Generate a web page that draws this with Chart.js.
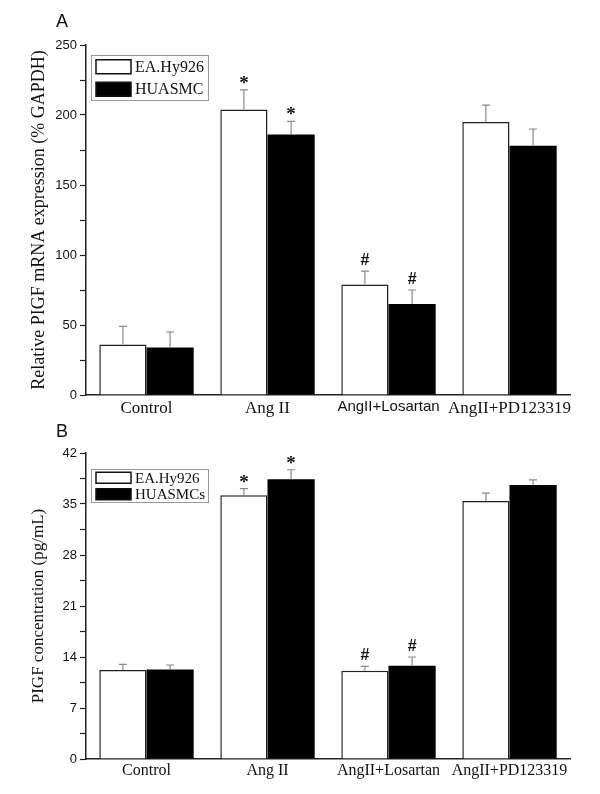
<!DOCTYPE html>
<html>
<head>
<meta charset="utf-8">
<script src="https://cdn.jsdelivr.net/npm/chart.js@4"></script>
<style>
  body { margin: 0; background: #fff; }
  #wrapA { position: absolute; left: 0; top: 0; }
  #wrapB { position: absolute; left: 0; top: 420px; }
</style>
</head>
<body>
<div id="wrapA"><canvas id="chartA" width="600" height="420"></canvas></div>
<div id="wrapB"><canvas id="chartB" width="600" height="374"></canvas></div>
<script>
// categories
const categories = ['Control', 'Ang II', 'AngII+Losartan', 'AngII+PD123319'];

// panel A: relative PlGF mRNA (% GAPDH)
const mrnaEA = [36, 204, 79, 195];
const mrnaEAErr = [13, 14, 9.5, 12];
const mrnaHU = [34, 186, 65, 178];
const mrnaHUErr = [11, 9.5, 10, 12];
const mrnaEAMarks = ['', '*', '#', ''];
const mrnaHUMarks = ['', '*', '#', ''];

// panel B: PlGF concentration (pg/mL)
const concEA = [12.2, 36.2, 12.1, 35.4];
const concEAErr = [0.8, 0.9, 0.6, 1.1];
const concHU = [12.3, 38.4, 12.8, 37.6];
const concHUErr = [0.6, 1.3, 1.2, 0.7];
const concEAMarks = ['', '*', '#', ''];
const concHUMarks = ['', '*', '#', ''];

const serif = '"Liberation Serif", "Times New Roman", serif';
const sans = '"Liberation Sans", Arial, sans-serif';

// error bars (upward only) + significance marks
const errorBars = {
  id: 'errorBars',
  afterDatasetsDraw(chart) {
    const ctx = chart.ctx;
    const y = chart.scales.y;
    chart.data.datasets.forEach((ds, di) => {
      const meta = chart.getDatasetMeta(di);
      meta.data.forEach((bar, i) => {
        const top = y.getPixelForValue(ds.data[i] + ds.errors[i]);
        ctx.save();
        ctx.strokeStyle = '#8a8a8a';
        ctx.lineWidth = 1.2;
        ctx.beginPath();
        ctx.moveTo(bar.x, bar.y);
        ctx.lineTo(bar.x, top);
        ctx.moveTo(bar.x - 4, top);
        ctx.lineTo(bar.x + 4, top);
        ctx.stroke();
        const m = ds.marks[i];
        if (m) {
          ctx.fillStyle = '#111';
          ctx.textAlign = 'center';
          ctx.textBaseline = 'alphabetic';
          if (m === '*') {
            ctx.font = 'bold 19px ' + serif;
            ctx.fillText(m, bar.x, top - 1);
          } else {
            ctx.font = 'bold 16px ' + sans;
            ctx.fillText(m, bar.x, top - 6);
          }
        }
        ctx.restore();
      });
    });
  }
};

// boxed legend and panel letter
const boxLegend = {
  id: 'boxLegend',
  afterDraw(chart, args, opts) {
    const ctx = chart.ctx;
    ctx.save();
    ctx.strokeStyle = '#999';
    ctx.lineWidth = 1;
    ctx.strokeRect(opts.x + 0.5, opts.y + 0.5, opts.w, opts.h);
    const rowH = opts.h / chart.data.datasets.length;
    chart.data.datasets.forEach((ds, i) => {
      const cy = opts.y + rowH * i + rowH / 2 + 0.5;
      ctx.fillStyle = ds.backgroundColor;
      ctx.fillRect(opts.x + 5, cy - opts.sh / 2, 35, opts.sh);
      ctx.strokeStyle = '#111';
      ctx.lineWidth = 1.5;
      ctx.strokeRect(opts.x + 5, cy - opts.sh / 2, 35, opts.sh);
      ctx.fillStyle = '#111';
      ctx.font = opts.fontSize + 'px ' + serif;
      ctx.textAlign = 'left';
      ctx.textBaseline = 'middle';
      ctx.fillText(ds.label, opts.x + 44, cy + 1);
    });
    ctx.font = '18px ' + sans;
    ctx.textAlign = 'center';
    ctx.textBaseline = 'middle';
    ctx.fillText(opts.letter, opts.lx, opts.ly);
    ctx.restore();
  }
};

function makeChart(id, cfg) {
  const labelFont = (c) => {
    if (cfg.sansIndex === c.index) return { family: sans, size: 15 };
    return { family: serif, size: cfg.xFont };
  };
  return new Chart(document.getElementById(id), {
    type: 'bar',
    data: {
      labels: categories,
      datasets: [
        {
          label: 'EA.Hy926', data: cfg.ea, errors: cfg.eaErr, marks: cfg.eaMarks,
          backgroundColor: '#ffffff', borderColor: '#222', borderWidth: 1.5,
          borderSkipped: 'bottom', categoryPercentage: 0.78, barPercentage: 1
        },
        {
          label: cfg.huLabel, data: cfg.hu, errors: cfg.huErr, marks: cfg.huMarks,
          backgroundColor: '#000000', borderColor: '#000', borderWidth: 0,
          categoryPercentage: 0.78, barPercentage: 1
        }
      ]
    },
    options: {
      responsive: false,
      animation: false,
      layout: { padding: { left: 0, right: 30, top: cfg.top, bottom: 0 } },
      plugins: {
        legend: { display: false },
        tooltip: { enabled: false },
        boxLegend: cfg.legend
      },
      scales: {
        x: {
          grid: { display: false, drawTicks: false },
          border: { color: '#222', width: 1.5 },
          ticks: { color: '#111', font: labelFont, padding: cfg.xPad, maxRotation: 0, autoSkip: false },
          afterFit: (s) => { s.height = cfg.xHeight; }
        },
        y: {
          min: 0, max: cfg.max,
          grid: { drawOnChartArea: false, tickLength: 6, tickColor: '#222', tickWidth: 1.2 },
          border: { color: '#222', width: 1.5 },
          ticks: {
            stepSize: cfg.step / 2,
            color: '#111',
            font: { family: sans, size: 13 },
            padding: 3,
            callback: (v) => Math.abs(v / cfg.step - Math.round(v / cfg.step)) < 1e-6 ? v : ''
          },
          title: {
            display: true, text: cfg.yTitle, color: '#111',
            font: { family: serif, size: cfg.titleSize },
            padding: { top: 28, bottom: 0 }
          },
          afterFit: (s) => { s.width = 86; }
        }
      }
    },
    plugins: [errorBars, boxLegend]
  });
}

makeChart('chartA', {
  ea: mrnaEA, eaErr: mrnaEAErr, eaMarks: mrnaEAMarks,
  hu: mrnaHU, huErr: mrnaHUErr, huMarks: mrnaHUMarks,
  huLabel: 'HUASMC',
  max: 250, step: 50, top: 45, xHeight: 25, xPad: 3, xFont: 17, sansIndex: 2,
  yTitle: 'Relative PIGF mRNA expression (% GAPDH)', titleSize: 18,
  legend: { x: 91, y: 55, w: 117, h: 45, sh: 14, fontSize: 16, letter: 'A', lx: 62, ly: 22 }
});

makeChart('chartB', {
  ea: concEA, eaErr: concEAErr, eaMarks: concEAMarks,
  hu: concHU, huErr: concHUErr, huMarks: concHUMarks,
  huLabel: 'HUASMCs',
  max: 42, step: 7, top: 33, xHeight: 35, xPad: 2, xFont: 16, sansIndex: -1,
  yTitle: 'PIGF concentration (pg/mL)', titleSize: 17,
  legend: { x: 91, y: 49, w: 117, h: 33, sh: 11, fontSize: 15, letter: 'B', lx: 62, ly: 12 }
});
</script>
</body>
</html>
